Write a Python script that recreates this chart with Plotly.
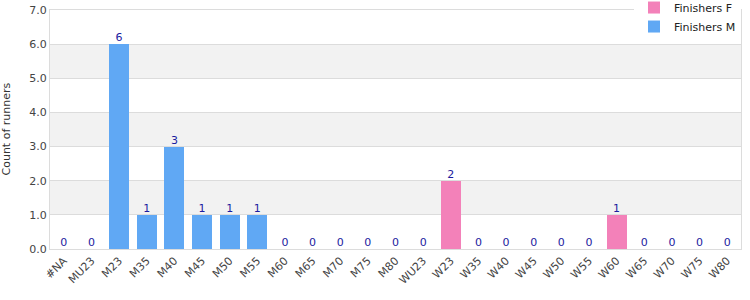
import plotly.graph_objects as go

categories = ["#NA", "MU23", "M23", "M35", "M40", "M45", "M50", "M55", "M60", "M65",
              "M70", "M75", "M80", "WU23", "W23", "W35", "W40", "W45", "W50", "W55",
              "W60", "W65", "W70", "W75", "W80"]
finishers_m = [0, 0, 6, 1, 3, 1, 1, 1, 0, 0, 0, 0, 0, 0, 0, 0, 0, 0, 0, 0, 0, 0, 0, 0, 0]
finishers_f = [0, 0, 0, 0, 0, 0, 0, 0, 0, 0, 0, 0, 0, 0, 2, 0, 0, 0, 0, 0, 1, 0, 0, 0, 0]
totals = [m + f for m, f in zip(finishers_m, finishers_f)]

font = "DejaVu Sans"
fig = go.Figure()
fig.add_trace(go.Bar(x=categories, y=finishers_f, name="Finishers F",
                     marker=dict(color="#f381b9", line=dict(width=0))))
fig.add_trace(go.Bar(x=categories, y=finishers_m, name="Finishers M",
                     marker=dict(color="#60a8f4", line=dict(width=0))))
fig.add_trace(go.Scatter(x=categories, y=totals, mode="text", text=[str(v) for v in totals],
                         textposition="top center", showlegend=False, hoverinfo="skip",
                         textfont=dict(family=font, size=11, color="#1c1ca0")))

shapes = []
for lo in (1, 3, 5):
    shapes.append(dict(type="rect", xref="paper", yref="y", x0=0, x1=1, y0=lo, y1=lo + 1,
                       fillcolor="#f2f2f2", line=dict(width=0), layer="below"))

fig.update_layout(
    width=750, height=300,
    margin=dict(l=50, r=9, t=10, b=51, autoexpand=False),
    barmode="stack", bargap=0.28,
    plot_bgcolor="white", paper_bgcolor="white",
    font=dict(family=font, size=11, color="#444"),
    shapes=shapes,
    annotations=[dict(text="Count of runners", xref="paper", yref="paper",
                      x=-44 / 691, y=0.5, xanchor="center", yanchor="middle",
                      textangle=-90, showarrow=False,
                      font=dict(family=font, size=11, color="#333"))],
    legend=dict(x=1, xanchor="right", y=1.071, yanchor="top", bgcolor="white",
                font=dict(family=font, size=11, color="#222"),
                traceorder="normal", itemwidth=30, tracegroupgap=0),
    xaxis=dict(tickangle=-45, showline=True, linecolor="#dcdcdc", mirror=True,
               automargin=False, range=[-0.5, len(categories) - 0.5],
               tickfont=dict(family=font, size=11, color="#444"), ticks=""),
    yaxis=dict(range=[0, 7], dtick=1, tickformat=".1f", showgrid=True, gridcolor="#dcdcdc",
               showline=True, linecolor="#dcdcdc", mirror=True, zeroline=False,
               automargin=False,
               tickfont=dict(family=font, size=11, color="#444")),
)
fig.write_html("out.html")
